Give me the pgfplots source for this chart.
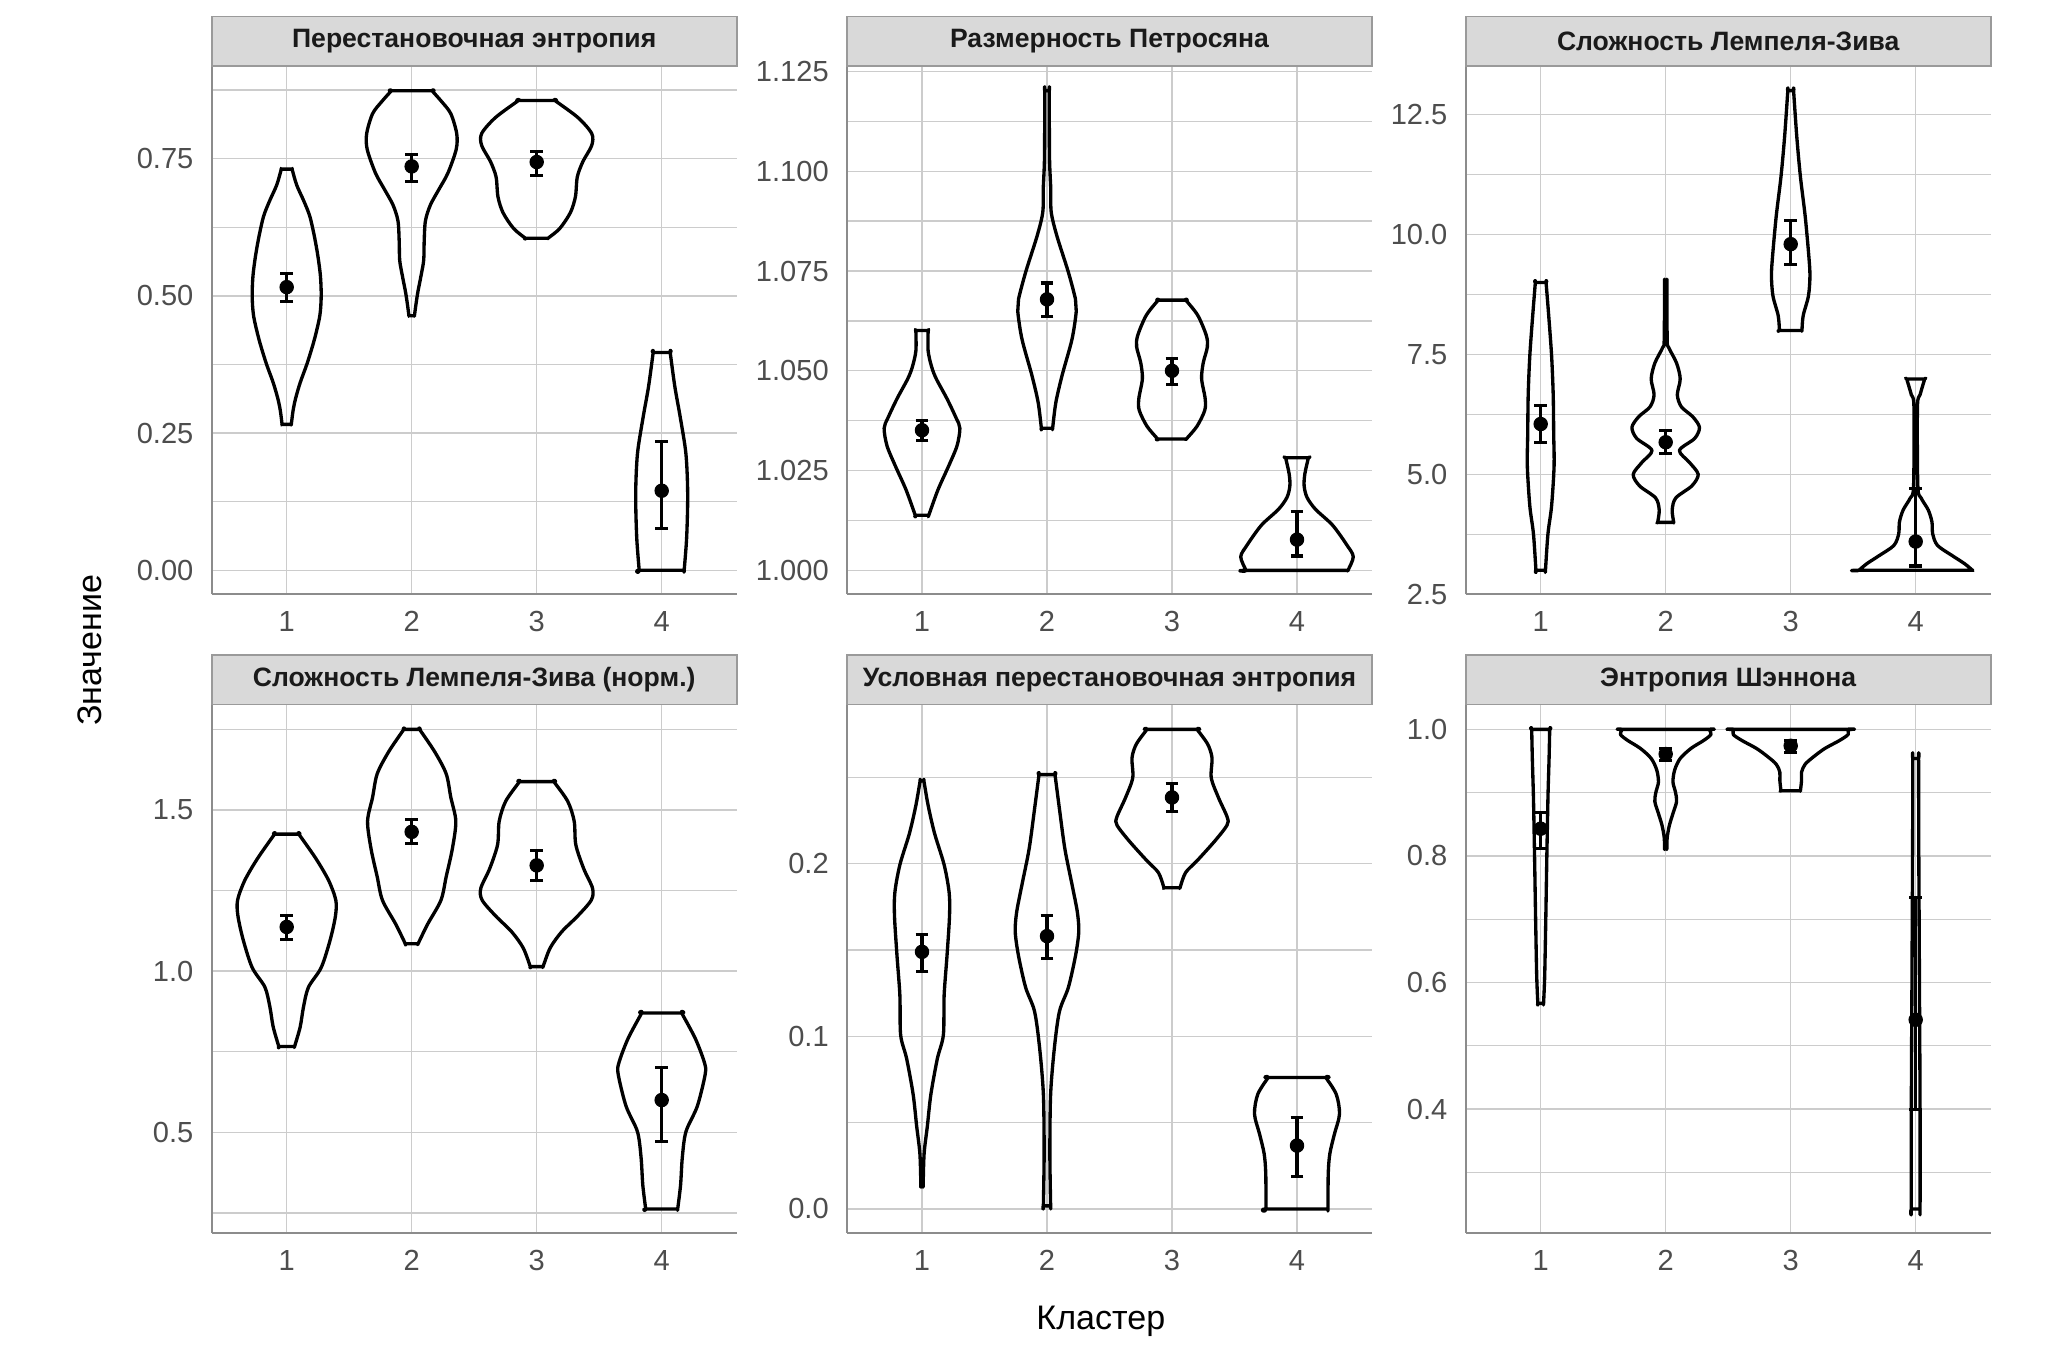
\documentclass[border=0pt]{standalone}
\usepackage{pgfplots}
\pgfplotsset{compat=1.18}
\usepackage{pgfplotstable}
\usepackage{fontspec}
\setmainfont{Liberation Sans}
\definecolor{gridcol}{HTML}{CCCCCC}
\definecolor{axiscol}{HTML}{8C8C8C}
\definecolor{stripfill}{HTML}{D9D9D9}
\definecolor{stripborder}{HTML}{9A9A9A}
\definecolor{tickcol}{HTML}{4D4D4D}
\definecolor{striptext}{HTML}{1A1A1A}

% means with error bars: x, mean, lower, upper
\pgfplotstableread{
x m lo hi
1 0.516 0.490 0.540
2 0.736 0.709 0.758
3 0.744 0.720 0.764
4 0.145 0.077 0.234
}\meansA
\pgfplotstableread{
x m lo hi
1 1.0351 1.0326 1.0376
2 1.0679 1.0637 1.0720
3 1.0500 1.0465 1.0532
4 1.0077 1.0036 1.0148
}\meansB
\pgfplotstableread{
x m lo hi
1 6.05 5.67 6.43
2 5.67 5.43 5.91
3 9.80 9.37 10.29
4 3.60 3.09 4.70
}\meansC
\pgfplotstableread{
x m lo hi
1 1.137 1.097 1.174
2 1.432 1.395 1.469
3 1.328 1.281 1.373
4 0.600 0.471 0.700
}\meansD
\pgfplotstableread{
x m lo hi
1 0.1489 0.1375 0.1588
2 0.1580 0.1452 0.1700
3 0.2383 0.2302 0.2463
4 0.0367 0.0188 0.0531
}\meansE
\pgfplotstableread{
x m lo hi
1 0.843 0.812 0.869
2 0.961 0.951 0.970
3 0.974 0.964 0.982
4 0.541 0.400 0.734
}\meansF

% violin: centre, list of value/half-width pairs (ascending values)
\newcommand\violin[2]{%
  \gdef\vR{}\gdef\vL{}\gdef\vFR{}\gdef\vFL{}%
  \foreach \yy/\ww in {#2}{%
    \pgfmathsetmacro\xr{#1+\ww}\pgfmathsetmacro\xl{#1-\ww}%
    \ifx\vFR\empty\xdef\vFR{(\xr,\yy)}\xdef\vFL{(\xl,\yy)}\fi
    \xdef\vLR{(\xr,\yy)}\xdef\vLL{(\xl,\yy)}%
    \xdef\vR{\vR(\xr,\yy)}\xdef\vL{(\xl,\yy)\vL}%
  }%
  \edef\vtmp{\noexpand\addplot[violinstyle] coordinates {\vFR\vR\vLR\vLL\vL\vFL\vFR};}%
  \vtmp}

\pgfplotsset{
  every axis title shift=0pt,
  violinstyle/.style={black, line width=1.2bp, smooth, tension=0.5, line join=round, line cap=round, mark=none, fill=none},
  meanstyle/.style={only marks, mark=*, mark size=2.4bp, black,
    error bars/.cd, y dir=both, y explicit,
    error bar style={line width=1.1bp, black},
    error mark options={rotate=90, line width=1.1bp, mark size=2.3bp, black}},
  panel/.style={
    scale only axis, width=189bp, height=189.94bp,
    anchor=south west,
    xmin=0.4, xmax=4.6, xtick={1,2,3,4},
    axis x line*=bottom, axis y line*=left,
    axis line style={-, draw=axiscol, line width=0.6bp},
    major tick length=0pt, minor tick length=0pt,
    xmajorgrids, ymajorgrids, yminorgrids,
    major grid style={draw=gridcol, line width=0.5bp},
    minor grid style={draw=gridcol, line width=0.5bp},
    /pgf/number format/assume math mode=true,
    tick label style={font=\fontsize{10.5}{10.5}\selectfont, text=tickcol},
    xticklabel style={anchor=center, inner sep=0pt, yshift=-9.9bp},
    yticklabel style={anchor=east, inner sep=0pt, xshift=-6.4bp},
    title style={at={(0.5,1)}, anchor=south, yshift=0pt, fill=stripfill, draw=stripborder,
      line width=0.6bp, minimum width=189bp, minimum height=17.8bp, inner sep=0pt,
      font=\fontsize{9.6}{9.6}\selectfont\bfseries, text=striptext},
  }
}

\begin{document}
\begin{tikzpicture}
\path[use as bounding box] (0,0) rectangle (744.12bp,487.44bp);

% ---- Panel 1
\begin{axis}[panel, at={(76.21bp,273.49bp)}, title={Перестановочная энтропия},
  ymin=-0.0437, ymax=0.9177, ytick={0,0.25,0.5,0.75}, yticklabels={0.00,0.25,0.50,0.75},
  minor ytick={0.125,0.375,0.625,0.875}]
\violin{1}{0.266/0.037, 0.291/0.051, 0.313/0.071, 0.342/0.108, 0.378/0.165, 0.421/0.222, 0.464/0.265, 0.50/0.276, 0.536/0.27, 0.572/0.25, 0.608/0.222, 0.645/0.185, 0.673/0.137, 0.702/0.08, 0.731/0.043}
\violin{2}{0.464/0.022, 0.486/0.035, 0.508/0.05, 0.536/0.074, 0.565/0.096, 0.60/0.10, 0.637/0.11, 0.666/0.15, 0.695/0.22, 0.724/0.29, 0.767/0.356, 0.796/0.36, 0.832/0.313, 0.854/0.24, 0.874/0.162}
\violin{3}{0.605/0.09, 0.623/0.185, 0.652/0.27, 0.681/0.31, 0.717/0.325, 0.745/0.37, 0.774/0.44, 0.796/0.44, 0.825/0.33, 0.856/0.146}
\violin{4}{0/0.18, 0.061/0.2, 0.14/0.208, 0.212/0.194, 0.277/0.15, 0.335/0.105, 0.397/0.068}
\addplot[meanstyle] table[x=x, y=m, y error plus expr=\thisrow{hi}-\thisrow{m}, y error minus expr=\thisrow{m}-\thisrow{lo}] {\meansA};
\end{axis}

% ---- Panel 2
\begin{axis}[panel, at={(304.92bp,273.49bp)}, title={Размерность Петросяна},
  ymin=0.994, ymax=1.1262, ytick={1,1.025,1.05,1.075,1.1,1.125},
  yticklabels={1.000,1.025,1.050,1.075,1.100,1.125},
  minor ytick={1.0125,1.0375,1.0625,1.0875,1.1125}]
\violin{1}{1.0138/0.054, 1.0202/0.128, 1.0262/0.214, 1.0312/0.28, 1.0356/0.303, 1.0381/0.274, 1.043/0.2, 1.048/0.114, 1.051/0.077, 1.055/0.049, 1.0601/0.049}
\violin{2}{1.0356/0.045, 1.0421/0.071, 1.049/0.122, 1.0579/0.2, 1.0649/0.234, 1.0679/0.228, 1.0748/0.17, 1.0837/0.08, 1.0897/0.034, 1.0956/0.03, 1.1036/0.02, 1.1202/0.018}
\violin{3}{1.0329/0.114, 1.0361/0.2, 1.0401/0.262, 1.0431/0.265, 1.048/0.237, 1.052/0.25, 1.056/0.283, 1.0589/0.274, 1.0639/0.206, 1.0677/0.111}
\violin{4}{1.0/0.408, 1.0034/0.45, 1.0063/0.4, 1.0113/0.285, 1.0153/0.148, 1.0183/0.08, 1.0212/0.057, 1.0242/0.063, 1.0282/0.091}
\addplot[meanstyle] table[x=x, y=m, y error plus expr=\thisrow{hi}-\thisrow{m}, y error minus expr=\thisrow{m}-\thisrow{lo}] {\meansB};
\end{axis}

% ---- Panel 3
\begin{axis}[panel, at={(527.65bp,273.49bp)}, title={Сложность Лемпеля-Зива},
  ymin=2.5, ymax=13.5, ytick={2.5,5,7.5,10,12.5}, yticklabels={2.5,5.0,7.5,10.0,12.5},
  minor ytick={3.75,6.25,8.75,11.25}]
\violin{1}{3.0/0.038, 3.76/0.058, 4.34/0.087, 5.17/0.107, 5.83/0.104, 6.66/0.1, 7.48/0.087, 8.31/0.064, 9.0/0.043}
\violin{2}{4.0/0.064, 4.26/0.052, 4.51/0.081, 4.76/0.209, 5.0/0.26, 5.25/0.19, 5.5/0.11, 5.75/0.232, 5.98/0.27, 6.2/0.217, 6.41/0.125, 6.66/0.093, 6.99/0.116, 7.32/0.087, 7.65/0.023, 7.81/0.012, 9.0/0.009}
\violin{3}{8.0/0.09, 8.31/0.1, 8.72/0.142, 9.14/0.154, 9.55/0.145, 10.38/0.116, 11.2/0.078, 12.03/0.049, 13.0/0.023}
\violin{4}{3.0/0.455, 3.14/0.39, 3.31/0.29, 3.52/0.174, 3.76/0.136, 4.01/0.13, 4.26/0.1, 4.51/0.043, 4.76/0.017, 6.41/0.014, 6.66/0.035, 6.99/0.072}
\addplot[meanstyle] table[x=x, y=m, y error plus expr=\thisrow{hi}-\thisrow{m}, y error minus expr=\thisrow{m}-\thisrow{lo}] {\meansC};
\end{axis}

% ---- Panel 4
\begin{axis}[panel, at={(76.21bp,43.56bp)}, title={Сложность Лемпеля-Зива (норм.)},
  ymin=0.1876, ymax=1.8244, ytick={0.5,1,1.5}, yticklabels={0.5,1.0,1.5},
  minor ytick={0.25,0.75,1.25,1.75}]
\violin{1}{0.766/0.063, 0.827/0.108, 0.888/0.134, 0.95/0.174, 1.011/0.276, 1.097/0.348, 1.171/0.39, 1.22/0.393, 1.281/0.336, 1.349/0.234, 1.425/0.097}
\violin{2}{1.085/0.051, 1.146/0.128, 1.22/0.234, 1.293/0.276, 1.379/0.325, 1.465/0.353, 1.539/0.313, 1.612/0.276, 1.68/0.185, 1.75/0.063}
\violin{3}{1.014/0.051, 1.072/0.108, 1.122/0.2, 1.171/0.328, 1.22/0.436, 1.257/0.447, 1.318/0.376, 1.392/0.313, 1.465/0.3, 1.527/0.248, 1.588/0.137}
\violin{4}{0.262/0.128, 0.336/0.151, 0.422/0.165, 0.502/0.194, 0.581/0.285, 0.68/0.348, 0.716/0.342, 0.79/0.27, 0.87/0.16}
\addplot[meanstyle] table[x=x, y=m, y error plus expr=\thisrow{hi}-\thisrow{m}, y error minus expr=\thisrow{m}-\thisrow{lo}] {\meansD};
\end{axis}

% ---- Panel 5
\begin{axis}[panel, at={(304.92bp,43.56bp)}, title={Условная перестановочная энтропия},
  ymin=-0.0139, ymax=0.2916, ytick={0,0.1,0.2}, yticklabels={0.0,0.1,0.2},
  minor ytick={0.05,0.15,0.25}]
\violin{1}{0.0137/0.009, 0.0321/0.017, 0.0481/0.043, 0.0664/0.071, 0.0871/0.123, 0.1008/0.171, 0.1237/0.177, 0.1466/0.2, 0.1695/0.22, 0.1833/0.217, 0.1993/0.177, 0.2176/0.1, 0.2337/0.049, 0.2479/0.015}
\violin{2}{0.0018/0.029, 0.0321/0.023, 0.0664/0.029, 0.0939/0.06, 0.1145/0.1, 0.1283/0.171, 0.1466/0.228, 0.1604/0.254, 0.1718/0.243, 0.1879/0.2, 0.2085/0.143, 0.2314/0.1, 0.2515/0.064}
\violin{3}{0.186/0.064, 0.1947/0.108, 0.2016/0.2, 0.2131/0.343, 0.2222/0.44, 0.2268/0.442, 0.2383/0.371, 0.2497/0.314, 0.2612/0.32, 0.2692/0.285, 0.2777/0.2}
\violin{4}{0/0.248, 0.0206/0.25, 0.0321/0.263, 0.0435/0.3, 0.055/0.34, 0.0664/0.314, 0.0761/0.231}
\addplot[meanstyle] table[x=x, y=m, y error plus expr=\thisrow{hi}-\thisrow{m}, y error minus expr=\thisrow{m}-\thisrow{lo}] {\meansE};
\end{axis}

% ---- Panel 6
\begin{axis}[panel, at={(527.65bp,43.56bp)}, title={Энтропия Шэннона},
  ymin=0.2041, ymax=1.0379, ytick={0.4,0.6,0.8,1.0}, yticklabels={0.4,0.6,0.8,1.0},
  minor ytick={0.3,0.5,0.7,0.9}]
\violin{1}{0.567/0.023, 0.611/0.032, 0.704/0.041, 0.798/0.049, 0.892/0.058, 0.954/0.067, 1.0/0.072}
\violin{2}{0.811/0.009, 0.829/0.012, 0.848/0.029, 0.867/0.058, 0.886/0.087, 0.901/0.078, 0.917/0.058, 0.936/0.072, 0.954/0.116, 0.97/0.203, 0.9825/0.304, 0.992/0.362, 1.0/0.348}
\violin{3}{0.903/0.078, 0.92/0.087, 0.9325/0.087, 0.945/0.116, 0.9575/0.188, 0.97/0.275, 0.9825/0.391, 0.992/0.46, 1.0/0.455}
\violin{4}{0.242/0.035, 0.4/0.035, 0.6/0.03, 0.8/0.025, 0.954/0.023}
\addplot[meanstyle] table[x=x, y=m, y error plus expr=\thisrow{hi}-\thisrow{m}, y error minus expr=\thisrow{m}-\thisrow{lo}] {\meansF};
\end{axis}

\node[anchor=base, rotate=90, font=\fontsize{12.3}{12.3}\selectfont] at (36.6bp,253.4bp) {Значение};
\node[anchor=base, font=\fontsize{12.3}{12.3}\selectfont] at (396.3bp,8.9bp) {Кластер};
\end{tikzpicture}
\end{document}
